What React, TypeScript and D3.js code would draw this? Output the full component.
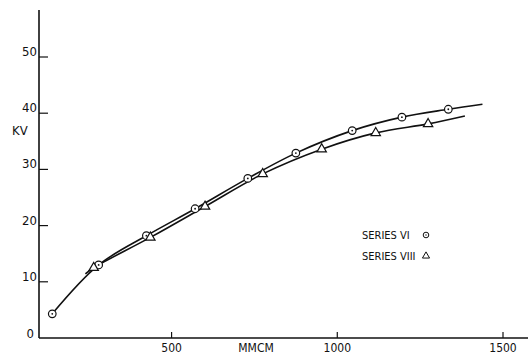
import * as d3 from "d3";
import { useEffect, useRef } from "react";

// Series VI (circles)
const viX = [140, 280, 424, 571, 730, 875, 1045, 1195, 1335];
const viY = [4.3, 13.0, 18.2, 23.0, 28.4, 32.9, 36.9, 39.3, 40.7];
// Series VIII (triangles)
const viiiX = [265, 436, 601, 775, 953, 1116, 1274];
const viiiY = [12.5, 17.9, 23.4, 29.2, 33.6, 36.5, 38.1];
// hand-drawn tails past the last point
const viTail = [1438, 41.6];
const viiiTail = [1385, 39.5];

const xTicks = [500, 1000, 1500];
const yTicks = [0, 10, 20, 30, 40, 50];

const W = 528;
const H = 356;
const FONT = "'Liberation Sans Narrow', 'DejaVu Sans Condensed', sans-serif";

const App = () => {
  const svgRef = useRef<SVGSVGElement>(null);

  useEffect(() => {
    if (!svgRef.current) return;
    const svg = d3.select(svgRef.current);
    svg.selectAll("*").remove();

    const x = d3.scaleLinear().domain([100, 1500]).range([39, 503]);
    const y = d3.scaleLinear().domain([0, 50]).range([338, 57]);

    svg.append("rect").attr("width", W).attr("height", H).attr("fill", "#fff");

    // axes
    svg.append("line").attr("x1", 39).attr("x2", 39).attr("y1", 10).attr("y2", y(0))
      .attr("stroke", "#111").attr("stroke-width", 1.6);
    svg.append("line").attr("x1", 39).attr("x2", W).attr("y1", y(0)).attr("y2", y(0))
      .attr("stroke", "#111").attr("stroke-width", 1.4);

    yTicks.forEach((t) => {
      if (t > 0) {
        svg.append("line").attr("x1", 39).attr("x2", 48).attr("y1", y(t)).attr("y2", y(t))
          .attr("stroke", "#111").attr("stroke-width", 1.2);
      }
      svg.append("text")
        .attr("x", t === 0 ? 34 : 37)
        .attr("y", y(t) + (t === 0 ? 0 : -1))
        .attr("text-anchor", "end")
        .attr("font-family", FONT)
        .attr("font-size", 13)
        .attr("fill", "#111")
        .text(t);
    });

    xTicks.forEach((t) => {
      svg.append("line").attr("x1", x(t)).attr("x2", x(t)).attr("y1", y(0) - 6).attr("y2", y(0))
        .attr("stroke", "#111").attr("stroke-width", 1.2);
      svg.append("text")
        .attr("x", x(t))
        .attr("y", 352)
        .attr("text-anchor", "middle")
        .attr("font-family", FONT)
        .attr("font-size", 12)
        .attr("fill", "#111")
        .text(t);
    });

    svg.append("text").attr("x", 256).attr("y", 352).attr("text-anchor", "middle")
      .attr("font-family", FONT).attr("font-size", 12).attr("fill", "#111").text("MMCM");
    svg.append("text").attr("x", 12).attr("y", 135)
      .attr("font-family", FONT).attr("font-size", 13).attr("fill", "#111").text("KV");

    const line = d3.line<[number, number]>()
      .x((d) => x(d[0]))
      .y((d) => y(d[1]))
      .curve(d3.curveCatmullRom.alpha(0.5));

    const viPts: [number, number][] = viX.map((v, i) => [v, viY[i]]);
    viPts.push([viTail[0], viTail[1]]);
    const viiiPts: [number, number][] = viiiX.map((v, i) => [v, viiiY[i]]);
    viiiPts.unshift([viX[1] - 40, viY[1] - 1.6]);
    viiiPts.push([viiiTail[0], viiiTail[1]]);

    [viPts, viiiPts].forEach((pts) => {
      svg.append("path").attr("d", line(pts)).attr("fill", "none")
        .attr("stroke", "#111").attr("stroke-width", 1.6);
    });

    // circle markers
    viX.forEach((v, i) => {
      svg.append("circle").attr("cx", x(v)).attr("cy", y(viY[i])).attr("r", 3.8)
        .attr("fill", "#fff").attr("stroke", "#111").attr("stroke-width", 1.2);
      svg.append("circle").attr("cx", x(v)).attr("cy", y(viY[i])).attr("r", 0.9).attr("fill", "#111");
    });

    const tri = d3.symbol().type(d3.symbolTriangle).size(38);
    viiiX.forEach((v, i) => {
      svg.append("path").attr("d", tri()).attr("transform", `translate(${x(v)},${y(viiiY[i])})`)
        .attr("fill", "#fff").attr("stroke", "#111").attr("stroke-width", 1.2);
    });

    // legend
    const leg = [
      { label: "SERIES VI", kind: "circle", y: 239 },
      { label: "SERIES VIII", kind: "tri", y: 260 },
    ];
    leg.forEach((l) => {
      svg.append("text").attr("x", 362).attr("y", l.y)
        .attr("font-family", FONT).attr("font-size", 11).attr("fill", "#111").text(l.label);
      if (l.kind === "circle") {
        svg.append("circle").attr("cx", 426).attr("cy", l.y - 4).attr("r", 2.8)
          .attr("fill", "#fff").attr("stroke", "#111").attr("stroke-width", 1);
        svg.append("circle").attr("cx", 426).attr("cy", l.y - 4).attr("r", 0.7).attr("fill", "#111");
      } else {
        svg.append("path").attr("d", d3.symbol().type(d3.symbolTriangle).size(22)())
          .attr("transform", `translate(426,${l.y - 4})`)
          .attr("fill", "#fff").attr("stroke", "#111").attr("stroke-width", 1);
      }
    });
  }, []);

  return (
    <svg
      ref={svgRef}
      width={W}
      height={H}
      style={{ position: "absolute", left: 0, top: 0, display: "block" }}
    />
  );
};

export default App;
